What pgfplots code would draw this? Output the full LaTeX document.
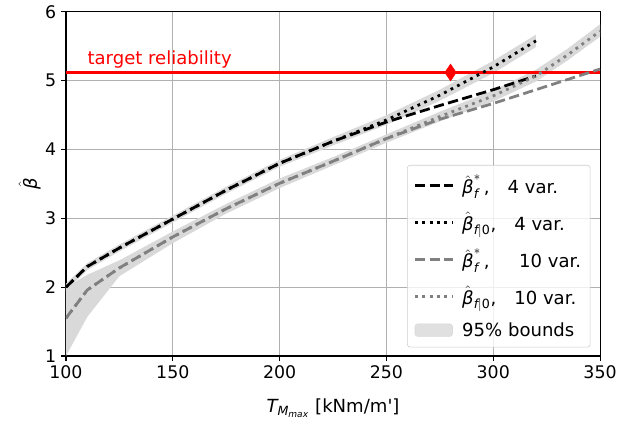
\documentclass[border=0pt]{standalone}
\usepackage{fontspec}
\setmainfont{DejaVu Sans}[Ligatures=TeXOff]
\usepackage{amsmath}
\usepackage{pgfplots}
\pgfplotsset{compat=1.18}
\usepgfplotslibrary{fillbetween}

\definecolor{gridgray}{RGB}{176,176,176}
\definecolor{bandgray}{RGB}{217,217,217}
\definecolor{mplgray}{RGB}{128,128,128}
\newcommand{\ti}[1]{\text{\itshape #1}}
\newcommand{\bh}{\hat{\ti{β}}}
\newcommand{\fs}{\fontsize{12.5}{15}\selectfont}
\newcommand{\fl}{\fontsize{13}{15.6}\selectfont}

\begin{document}
\begin{tikzpicture}
\begin{axis}[
	set layers,
	scale only axis, width=384.5pt, height=247.7pt,
	xmin=100, xmax=350, ymin=1, ymax=6,
	xtick={100,150,...,350}, ytick={1,2,...,6},
	xtick pos=lower, ytick pos=left,
	tick align=outside, major tick length=3.5pt,
	every tick/.style={black, line width=0.8pt},
	axis line style={line width=0.8pt},
	grid=major, major grid style={gridgray, line width=0.8pt},
	/pgf/number format/assume math mode=true,
	tick label style={font=\fs},
	label style={font=\fl},
	xlabel={$\ti{T}_{\ti{M}_{\ti{max}}}$ [kNm/m']},
	ylabel={$\bh$},
	xlabel style={at={(axis description cs:0.5,-0.151)}, anchor=center},
	ylabel style={at={(axis description cs:-0.068,0.5)}, anchor=center},
	legend cell align=left,
	legend style={at={(0.982,0.025)}, anchor=south east,
		draw={rgb,255:red,204;green,204;blue,204}, rounded corners=2pt,
		fill=white, fill opacity=0.8, text opacity=1,
		font=\fl, row sep=7.5pt, inner sep=4.5pt},
	legend image code/.code={\draw[#1] (0pt,0pt) -- (27pt,0pt); \path (31pt,0pt);},
]
% 95% bounds, 10 variables
\addplot[name path=tu, draw=none, forget plot] coordinates {(100,2.0) (110,2.18) (125,2.39) (150,2.81) (175,3.21) (200,3.58) (225,3.89) (250,4.22) (275,4.55) (300,4.86) (320,5.16) (335,5.47) (350,5.82)};
\addplot[name path=tl, draw=none, forget plot] coordinates {(100,1.0) (110,1.57) (125,2.16) (150,2.64) (175,3.07) (200,3.44) (225,3.77) (250,4.10) (275,4.41) (300,4.70) (320,4.99) (335,5.30) (350,5.64)};
\addplot[fill=bandgray, draw=none, forget plot, on layer=axis background] fill between[of=tu and tl];
% 95% bounds, 4 variables
\addplot[name path=fu, draw=none, forget plot] coordinates {(100,2.05) (110,2.35) (125,2.62) (150,3.04) (175,3.46) (200,3.85) (225,4.18) (250,4.50) (275,4.87) (300,5.29) (320,5.67)};
\addplot[name path=fl, draw=none, forget plot] coordinates {(100,1.95) (110,2.25) (125,2.52) (150,2.94) (175,3.36) (200,3.75) (225,4.06) (250,4.36) (275,4.71) (300,5.11) (320,5.49)};
\addplot[fill=bandgray, draw=none, forget plot, on layer=axis background] fill between[of=fu and fl];
% target reliability
\addplot[red, line width=2pt, forget plot] coordinates {(100,5.12) (350,5.12)};
\node[red, anchor=south west, inner sep=1.5pt, font=\fl] at (axis cs:109,5.15) {target reliability};

\addplot[black, line width=2pt, dash pattern=on 7.4pt off 3.2pt] coordinates {(100,2.0) (110,2.30) (125,2.57) (150,2.99) (175,3.41) (200,3.80) (225,4.12) (250,4.40) (275,4.64) (300,4.87) (320,5.07)};
\addlegendentry{$\bh^{*}_{\ti{f}}$\,,\quad 4 var.}
\addplot[black, line width=2pt, dash pattern=on 2pt off 3.3pt] coordinates {(100,2.0) (110,2.30) (125,2.57) (150,2.99) (175,3.41) (200,3.80) (225,4.12) (250,4.43) (275,4.79) (300,5.20) (320,5.58)};
\addlegendentry{$\bh_{\ti{f}|\text{0}}$,\quad 4 var.}
\addplot[mplgray, line width=2pt, dash pattern=on 7.4pt off 3.2pt] coordinates {(100,1.55) (110,1.96) (125,2.28) (150,2.73) (175,3.14) (200,3.51) (225,3.83) (250,4.16) (275,4.44) (300,4.67) (325,4.92) (350,5.17)};
\addlegendentry{$\bh^{*}_{\ti{f}}$\,,\quad\ \ 10 var.}
\addplot[mplgray, line width=2pt, dash pattern=on 2pt off 3.3pt] coordinates {(100,1.55) (110,1.96) (125,2.28) (150,2.73) (175,3.14) (200,3.51) (225,3.83) (250,4.16) (275,4.48) (300,4.78) (320,5.07) (335,5.38) (350,5.72)};
\addlegendentry{$\bh_{\ti{f}|\text{0}}$,\quad 10 var.}
\addlegendimage{legend image code/.code={\fill[bandgray] (0pt,-4.5pt) rectangle (27pt,4.5pt); \path (31pt,0pt);}}
\addlegendentry{95\% bounds}

\addplot[red, only marks, mark=diamond*, mark size=6pt, mark options={xscale=0.9}, forget plot] coordinates {(280,5.12)};
\end{axis}
\pgfresetboundingbox
\path (current axis.south west) ++(-47.5pt,-47.5pt);
\path (current axis.north east) ++(12.2pt,8.6pt);
\end{tikzpicture}
\end{document}
